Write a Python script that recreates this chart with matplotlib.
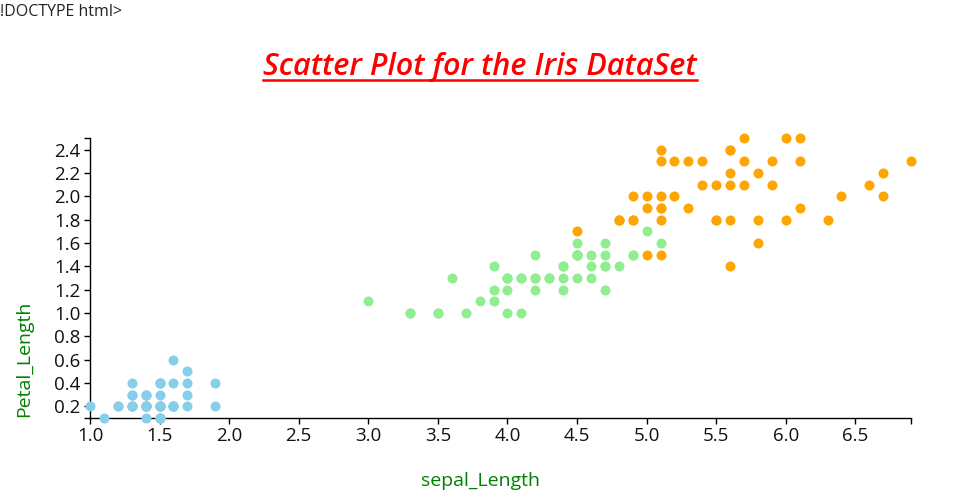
import matplotlib
matplotlib.use("Agg")
import matplotlib.pyplot as plt
from matplotlib.lines import Line2D

plt.rcParams['font.family'] = ['Open Sans', 'DejaVu Sans']

# Iris data: x = petal length, y = petal width
setosa_x = [1.4,1.4,1.3,1.5,1.4,1.7,1.4,1.5,1.4,1.5,1.5,1.6,1.4,1.1,1.2,1.5,1.3,1.4,1.7,1.5,
            1.7,1.5,1.0,1.7,1.9,1.6,1.6,1.5,1.4,1.6,1.6,1.5,1.5,1.4,1.5,1.2,1.3,1.5,1.3,1.5,
            1.3,1.3,1.3,1.6,1.9,1.4,1.6,1.4,1.5,1.4]
setosa_y = [0.2,0.2,0.2,0.2,0.2,0.4,0.3,0.2,0.2,0.1,0.2,0.2,0.1,0.1,0.2,0.4,0.4,0.3,0.3,0.3,
            0.2,0.4,0.2,0.5,0.2,0.2,0.4,0.2,0.2,0.2,0.2,0.4,0.1,0.2,0.1,0.2,0.2,0.1,0.2,0.2,
            0.3,0.3,0.2,0.6,0.4,0.3,0.2,0.2,0.2,0.2]
versicolor_x = [4.7,4.5,4.9,4.0,4.6,4.5,4.7,3.3,4.6,3.9,3.5,4.2,4.0,4.7,3.6,4.4,4.5,4.1,4.5,3.9,
                4.8,4.0,4.9,4.7,4.3,4.4,4.8,5.0,4.5,3.5,3.8,3.7,3.9,5.1,4.5,4.5,4.7,4.4,4.1,4.0,
                4.4,4.6,4.0,3.3,4.2,4.2,4.2,4.3,3.0,4.1]
versicolor_y = [1.4,1.5,1.5,1.3,1.5,1.3,1.6,1.0,1.3,1.4,1.0,1.5,1.0,1.4,1.3,1.4,1.5,1.0,1.5,1.1,
                1.8,1.3,1.5,1.2,1.3,1.4,1.4,1.7,1.5,1.0,1.1,1.0,1.2,1.6,1.5,1.6,1.5,1.3,1.3,1.3,
                1.2,1.4,1.2,1.0,1.3,1.2,1.3,1.3,1.1,1.3]
virginica_x = [6.0,5.1,5.9,5.6,5.8,6.6,4.5,6.3,5.8,6.1,5.1,5.3,5.5,5.0,5.1,5.3,5.5,6.7,6.9,5.0,
               5.7,4.9,6.7,4.9,5.7,6.0,4.8,4.9,5.6,5.8,6.1,6.4,5.6,5.1,5.6,6.1,5.6,5.5,4.8,5.4,
               5.6,5.1,5.1,5.9,5.7,5.2,5.0,5.2,5.4,5.1]
virginica_y = [2.5,1.9,2.1,1.8,2.2,2.1,1.7,1.8,1.8,2.5,2.0,1.9,2.1,2.0,2.4,2.3,1.8,2.2,2.3,1.5,
               2.3,2.0,2.0,1.8,2.1,1.8,1.8,1.8,2.1,1.6,1.9,2.0,2.2,1.5,1.4,2.3,2.4,1.8,1.8,2.1,
               2.4,2.3,1.9,2.3,2.5,2.3,1.9,2.0,2.3,1.8]

x_ticks = [1.0,1.5,2.0,2.5,3.0,3.5,4.0,4.5,5.0,5.5,6.0,6.5]
y_ticks = [0.2,0.4,0.6,0.8,1.0,1.2,1.4,1.6,1.8,2.0,2.2,2.4]
x_domain = (1.0, 6.9)
y_domain = (0.1, 2.5)

title = "Scatter Plot for the Iris DataSet"
x_label = "sepal_Length"
y_label = "Petal_Length"

W, H = 960, 500
fig = plt.figure(figsize=(W/100, H/100), dpi=100)
ax = fig.add_axes([90/W, (H-418)/H, (911-90)/W, (418-138)/H])

for xs, ys, c in [(setosa_x, setosa_y, '#87CEEB'),
                  (versicolor_x, versicolor_y, '#90EE90'),
                  (virginica_x, virginica_y, '#FFA500')]:
    ax.scatter(xs, ys, s=52, c=c, linewidths=0, clip_on=False, zorder=5)

ax.set_xlim(*x_domain)
ax.set_ylim(*y_domain)
ax.set_xticks(x_ticks)
ax.set_xticklabels([f"{v:.1f}" for v in x_ticks])
ax.set_yticks(y_ticks)
ax.set_yticklabels([f"{v:.1f}" for v in y_ticks])
ax.set_xticks([x_domain[1]], minor=True)
ax.set_yticks([y_domain[0], y_domain[1]], minor=True)
ax.tick_params(which='both', length=4.3, width=1, color='black', direction='out')
ax.tick_params(which='major', labelsize=13.5, labelcolor='#111111', pad=2.5)
for s in ['top', 'right']:
    ax.spines[s].set_visible(False)
for s in ['left', 'bottom']:
    ax.spines[s].set_linewidth(1)
    ax.spines[s].set_color('black')

fig.text(480/W, 1-481/H, x_label, color='#008000', fontsize=14, ha='center', va='center')
fig.text(24/W, 1-359/H, y_label, color='#008000', fontsize=14, ha='center', va='center', rotation=90)
fig.text(0, 1-12/H, "!DOCTYPE html>", color='#222222', fontsize=11.5, ha='left', va='center')

t = fig.text(480/W, 1-75/H, title, color='#FF0000', fontsize=22, fontweight='semibold',
             fontstyle='italic', ha='center', va='baseline')
fig.canvas.draw()
bb = t.get_window_extent()
target_w = 434
t.set_fontsize(22 * target_w / bb.width)
fig.canvas.draw()
bb = t.get_window_extent()
uy = 1 - 80/H
fig.add_artist(Line2D([bb.x0/W, bb.x1/W], [uy, uy], color='#FF0000', linewidth=1.8,
                      transform=fig.transFigure))

fig.savefig("out.png", dpi=100)
